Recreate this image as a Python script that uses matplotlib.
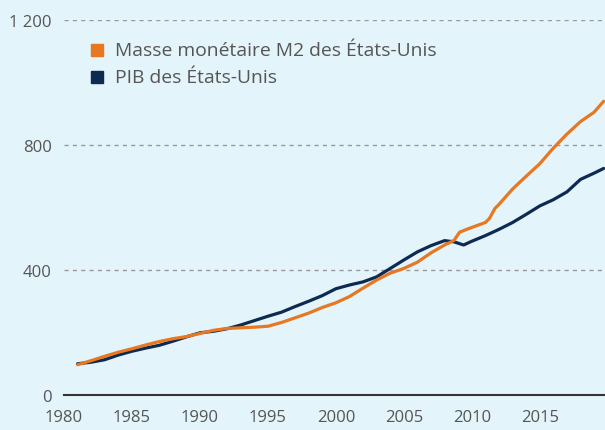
import numpy as np
import matplotlib.pyplot as plt

plt.rcParams['font.family'] = ['Open Sans', 'DejaVu Sans']

# Masse monétaire M2 (indice)
m2_years = [1981, 1982, 1983, 1984, 1985, 1986, 1987, 1988, 1989, 1990,
            1991, 1992, 1993, 1994, 1995, 1996, 1997, 1998, 1999, 2000,
            2001, 2002, 2003, 2004, 2005, 2006, 2007, 2008, 2008.7, 2009.1,
            2009.8, 2011.0, 2011.3, 2011.7, 2012, 2013, 2014, 2015, 2016, 2017,
            2018, 2019, 2019.7]
m2_vals = [97, 110, 124, 137, 148, 160, 171, 180, 187, 197,
           207, 213, 215, 217, 220, 232, 247, 262, 280, 295,
           315, 342, 368, 390, 405, 425, 455, 480, 495, 521,
           533, 552, 565, 597, 610, 659, 700, 740, 790, 835,
           875, 905, 940]

# PIB (indice)
pib_years = [1981, 1982, 1983, 1984, 1985, 1986, 1987, 1988, 1989, 1990,
             1991, 1992, 1993, 1994, 1995, 1996, 1997, 1998, 1999, 2000,
             2001, 2002, 2003, 2004, 2005, 2006, 2007, 2008, 2008.7, 2009.4,
             2010, 2011, 2012, 2013, 2014, 2015, 2016, 2017, 2018, 2019,
             2019.7]
pib_vals = [100, 105, 113, 128, 140, 150, 159, 172, 186, 199,
            204, 212, 224, 238, 252, 265, 283, 300, 318, 340,
            352, 362, 378, 405, 432, 458, 478, 494, 490, 480,
            492, 510, 530, 552, 578, 605, 625, 650, 690, 710,
            725]

x_ticks = [1980, 1985, 1990, 1995, 2000, 2005, 2010, 2015]
y_ticks = [0, 400, 800, 1200]
y_labels = ['0', '400', '800', '1 200']

bg = '#e4f4fb'
orange = '#e87722'
navy = '#0d2a50'
grey = '#555555'

fig = plt.figure(figsize=(6.05, 4.31), dpi=100, facecolor=bg)
ax = fig.add_axes([64 / 605, 35 / 431, 1 - 64 / 605, (396 - 21) / 431])
ax.set_facecolor(bg)

ax.plot(pib_years, pib_vals, color=navy, lw=2.3, solid_capstyle='round')
ax.plot(m2_years, m2_vals, color=orange, lw=2.3, solid_capstyle='round')

ax.set_xlim(1980, 2019.8)
ax.set_ylim(0, 1200)
ax.set_xticks(x_ticks)
ax.set_yticks(y_ticks)
ax.set_yticklabels(y_labels)
ax.tick_params(length=0, labelsize=12, labelcolor=grey)
ax.tick_params(axis='y', pad=9)
ax.tick_params(axis='x', pad=10)
for s in ax.spines.values():
    s.set_visible(False)
ax.set_axisbelow(True)
for v in y_ticks[1:]:
    ax.axhline(v, color='#999999', lw=1, ls=(0, (3, 3)), zorder=0)
ax.axhline(0, color='#333333', lw=1.5, zorder=1, clip_on=False)

# légende
ax.plot([0.061], [0.92], transform=ax.transAxes, marker='s', ms=9,
        color=orange, clip_on=False, ls='none')
ax.text(0.095, 0.92, 'Masse monétaire M2 des États-Unis', transform=ax.transAxes,
        fontsize=13.9, color=grey, va='center')
ax.plot([0.061], [0.848], transform=ax.transAxes, marker='s', ms=9,
        color=navy, clip_on=False, ls='none')
ax.text(0.095, 0.848, 'PIB des États-Unis', transform=ax.transAxes,
        fontsize=13.9, color=grey, va='center')

fig.savefig('out.png', dpi=100, facecolor=bg)
